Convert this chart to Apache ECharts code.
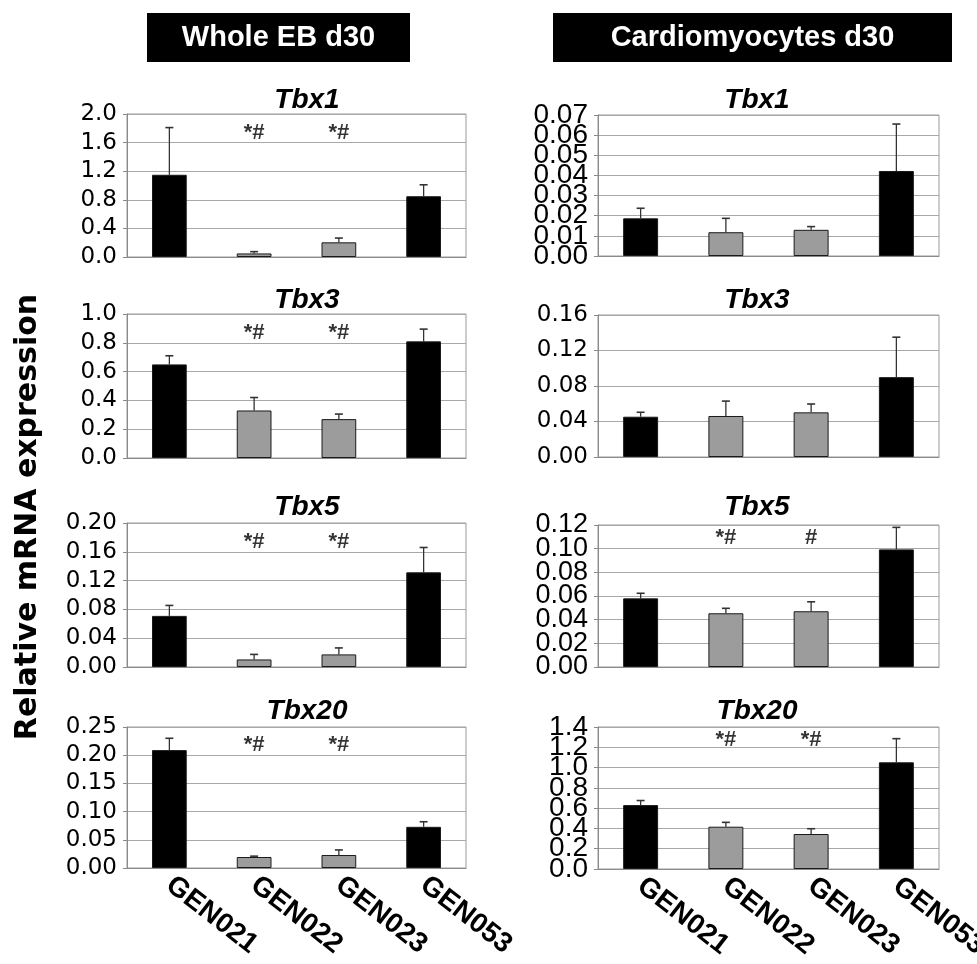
<!DOCTYPE html>
<html>
<head>
<meta charset="utf-8">
<script src="https://cdn.jsdelivr.net/npm/echarts@6/dist/echarts.min.js"></script>
<style>html,body{margin:0;padding:0;background:#fff}#c{width:977px;height:964px}</style>
</head>
<body>
<div id="c"></div>
<script>
// ---- data ----
const categories = ['GEN021', 'GEN022', 'GEN023', 'GEN053'];
const genes = ['Tbx1', 'Tbx3', 'Tbx5', 'Tbx20'];
const columnTitles = ['Whole EB d30', 'Cardiomyocytes d30'];
const yAxisTitle = 'Relative mRNA expression';

// Whole EB d30
const ebTbx1 = [1.15, 0.05, 0.205, 0.85];
const ebTbx1Err = [0.66, 0.025, 0.06, 0.16];
const ebTbx3 = [0.65, 0.33, 0.27, 0.81];
const ebTbx3Err = [0.06, 0.09, 0.035, 0.085];
const ebTbx5 = [0.071, 0.0105, 0.0175, 0.1315];
const ebTbx5Err = [0.0145, 0.007, 0.009, 0.0345];
const ebTbx20 = [0.209, 0.0195, 0.023, 0.073];
const ebTbx20Err = [0.021, 0.0015, 0.009, 0.009];

// Cardiomyocytes d30
const cmTbx1 = [0.0187, 0.0118, 0.013, 0.0422];
const cmTbx1Err = [0.005, 0.0069, 0.0016, 0.0233];
const cmTbx3 = [0.0454, 0.0462, 0.0503, 0.090];
const cmTbx3Err = [0.005, 0.0168, 0.0094, 0.045];
const cmTbx5 = [0.058, 0.0454, 0.0471, 0.0994];
const cmTbx5Err = [0.0043, 0.0042, 0.008, 0.0186];
const cmTbx20 = [0.63, 0.417, 0.345, 1.052];
const cmTbx20Err = [0.045, 0.043, 0.052, 0.233];

// significance marks
const ebMarks = ['', '*#', '*#', ''];
const cmTbx5Marks = ['', '*#', '#', ''];
const cmTbx20Marks = ['', '*#', '*#', ''];
const noMarks = ['', '', '', ''];

// axis scales
const ebMax = [2.0, 1.0, 0.20, 0.25];
const ebInterval = [0.4, 0.2, 0.04, 0.05];
const ebDecimals = [1, 1, 2, 2];
const cmMax = [0.07, 0.16, 0.12, 1.4];
const cmInterval = [0.01, 0.04, 0.02, 0.2];
const cmDecimals = [2, 2, 2, 1];

// ---- layout / style ----
const colLeft = [127, 598];
const colWidth = [339, 341];
const rowTop = [[114, 314, 523, 727], [115, 315, 525, 727]];
const rowBottom = [[257, 458, 667, 868], [256, 457, 667, 869]];
const titleY = [95, 295, 502, 706];
const titleX = [302, 752];
const barColors = ['#000000', '#9c9c9c', '#9c9c9c', '#000000'];
const markFrac = [0.13, 0.09];

const panels = [
  {col: 0, row: 0, v: ebTbx1, e: ebTbx1Err, m: ebMarks, max: ebMax[0], iv: ebInterval[0], d: ebDecimals[0], font: 'DejaVu Sans', fs: 23},
  {col: 0, row: 1, v: ebTbx3, e: ebTbx3Err, m: ebMarks, max: ebMax[1], iv: ebInterval[1], d: ebDecimals[1], font: 'DejaVu Sans', fs: 23},
  {col: 0, row: 2, v: ebTbx5, e: ebTbx5Err, m: ebMarks, max: ebMax[2], iv: ebInterval[2], d: ebDecimals[2], font: 'DejaVu Sans', fs: 23},
  {col: 0, row: 3, v: ebTbx20, e: ebTbx20Err, m: ebMarks, max: ebMax[3], iv: ebInterval[3], d: ebDecimals[3], font: 'DejaVu Sans', fs: 23},
  {col: 1, row: 0, v: cmTbx1, e: cmTbx1Err, m: noMarks, max: cmMax[0], iv: cmInterval[0], d: cmDecimals[0], font: 'Liberation Sans', fs: 28},
  {col: 1, row: 1, v: cmTbx3, e: cmTbx3Err, m: noMarks, max: cmMax[1], iv: cmInterval[1], d: cmDecimals[1], font: 'DejaVu Sans', fs: 23},
  {col: 1, row: 2, v: cmTbx5, e: cmTbx5Err, m: cmTbx5Marks, max: cmMax[2], iv: cmInterval[2], d: cmDecimals[2], font: 'Liberation Sans', fs: 27},
  {col: 1, row: 3, v: cmTbx20, e: cmTbx20Err, m: cmTbx20Marks, max: cmMax[3], iv: cmInterval[3], d: cmDecimals[3], font: 'Liberation Sans', fs: 28}
];

function tickValues(max, iv, parity) {
  const out = [];
  const n = Math.round(max / iv);
  for (let k = parity; k <= n; k += 2) out.push(Number((k * iv).toFixed(6)));
  return out;
}

const grids = [], xAxes = [], yAxes = [], series = [], titles = [];
panels.forEach((p, i) => {
  const top = rowTop[p.col][p.row], bottom = rowBottom[p.col][p.row];
  grids.push({
    left: colLeft[p.col], width: colWidth[p.col], top: top, height: bottom - top,
    containLabel: false, outerBoundsMode: 'none',
    show: true, borderColor: '#9a9a9a', borderWidth: 1, backgroundColor: '#fff'
  });
  const isBottom = p.row === 3;
  xAxes.push({
    type: 'category', gridIndex: i, data: categories,
    axisLine: {show: true, lineStyle: {color: '#8a8a8a', width: 1}},
    axisTick: {show: false},
    axisLabel: isBottom ? {
      show: true, rotate: -38, margin: 14, interval: 0, hideOverlap: false,
      fontFamily: 'Liberation Sans', fontWeight: 'bold', fontSize: 28, color: '#000'
    } : {show: false}
  });
  const labelStyle = {
    show: true, margin: 10, color: '#000', fontFamily: p.font, fontSize: p.fs,
    showMinLabel: true, showMaxLabel: true, hideOverlap: false,
    formatter: v => v.toFixed(p.d)
  };
  // primary axis: grid lines, ticks, even-indexed labels
  yAxes.push({
    type: 'value', gridIndex: i, position: 'left', min: 0, max: p.max, interval: p.iv,
    axisLine: {show: true, lineStyle: {color: '#8a8a8a', width: 1}},
    axisTick: {show: true, length: 4, lineStyle: {color: '#8a8a8a'}},
    splitLine: {show: true, lineStyle: {color: '#a8a8a8', width: 1}},
    axisLabel: Object.assign({}, labelStyle, {customValues: tickValues(p.max, p.iv, 0)})
  });
  // secondary axis on the same side: odd-indexed labels only
  yAxes.push({
    type: 'value', gridIndex: i, position: 'left', offset: 0, min: 0, max: p.max, interval: p.iv,
    axisLine: {show: false}, axisTick: {show: false}, splitLine: {show: false},
    axisLabel: Object.assign({}, labelStyle, {customValues: tickValues(p.max, p.iv, 1)})
  });
  series.push({
    type: 'bar', xAxisIndex: i, yAxisIndex: 2 * i, barWidth: '41%',
    data: p.v.map((val, k) => ({value: val, itemStyle: {color: barColors[k], borderColor: '#1a1a1a', borderWidth: 1}})),
    z: 2
  });
  series.push({
    type: 'custom', xAxisIndex: i, yAxisIndex: 2 * i, z: 1,
    data: p.v.map((val, k) => [k, val, val + p.e[k]]),
    renderItem: function (params, api) {
      const lo = api.coord([api.value(0), api.value(1)]);
      const hi = api.coord([api.value(0), api.value(2)]);
      const cw = 4;
      return {
        type: 'group',
        children: [
          {type: 'line', shape: {x1: lo[0], y1: lo[1], x2: hi[0], y2: hi[1]}, style: {stroke: '#333', lineWidth: 1.3}},
          {type: 'line', shape: {x1: hi[0] - cw, y1: hi[1], x2: hi[0] + cw, y2: hi[1]}, style: {stroke: '#333', lineWidth: 1.6}}
        ]
      };
    }
  });
  series.push({
    type: 'scatter', xAxisIndex: i, yAxisIndex: 2 * i, symbolSize: 0, z: 5,
    data: p.m.map((t, k) => ({value: [k, p.max * (1 - markFrac[p.col])], label: {show: t !== '', formatter: t}})),
    label: {show: true, position: 'inside', fontFamily: 'Liberation Sans', fontWeight: 'bold', fontSize: 22, color: '#000'}
  });
  titles.push({
    text: genes[p.row], left: titleX[p.col], top: titleY[p.row], textAlign: 'center', textVerticalAlign: 'middle',
    textStyle: {fontFamily: 'Liberation Sans', fontStyle: 'italic', fontWeight: 'bold', fontSize: 28, color: '#000'}
  });
});

const headerBoxes = [[147, 410], [553, 952]];
const graphic = [];
headerBoxes.forEach((b, i) => {
  graphic.push({type: 'rect', left: b[0], top: 13, shape: {width: b[1] - b[0], height: 49}, style: {fill: '#000'}});
  graphic.push({type: 'text', x: (b[0] + b[1]) / 2, y: 38, style: {text: columnTitles[i], fill: '#fff', font: 'bold 29px "Liberation Sans", Arial', textAlign: 'center', textVerticalAlign: 'middle'}});
});
graphic.push({type: 'text', x: 28, y: 517, rotation: Math.PI / 2, style: {text: yAxisTitle, fill: '#000', font: 'bold 30px "DejaVu Sans"', textAlign: 'center', textVerticalAlign: 'middle'}});

const chart = echarts.init(document.getElementById('c'), null, {renderer: 'canvas'});
chart.setOption({
  animation: false,
  backgroundColor: '#fff',
  title: titles,
  grid: grids,
  xAxis: xAxes,
  yAxis: yAxes,
  series: series,
  graphic: graphic
});
</script>
</body>
</html>
